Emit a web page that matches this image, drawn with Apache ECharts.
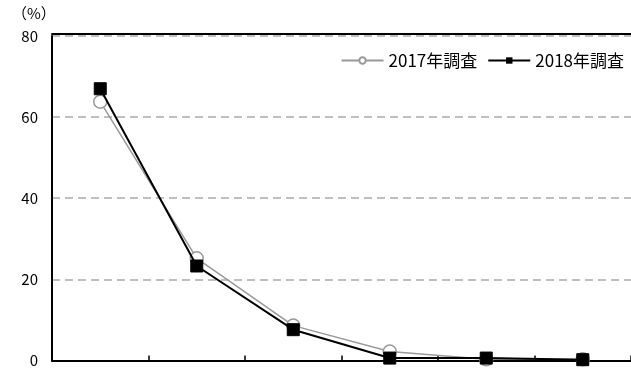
<!DOCTYPE html>
<html>
<head>
<meta charset="utf-8">
<script src="https://cdn.jsdelivr.net/npm/echarts@6/dist/echarts.min.js"></script>
<style>html,body{margin:0;padding:0;background:#fff;}#c{width:631px;height:368px;}</style>
</head>
<body>
<div id="c"></div>
<script>
const categories = ['1', '2', '3', '4', '5', '6'];
const series2017 = [63.8, 25.2, 8.6, 2.2, 0.3, 0.3];
const series2018 = [67.0, 23.3, 7.6, 0.6, 0.6, 0.2];
const yTicks = [0, 20, 40, 60, 80];
const seriesNames = ['2017年調査', '2018年調査'];

const chart = echarts.init(document.getElementById('c'));
const fontFam = '"Noto Sans CJK JP", "Liberation Sans", sans-serif';
chart.setOption({
  animation: false,
  textStyle: { fontFamily: fontFam },
  grid: { left: 52, top: 36, width: 588, bottom: 4, containLabel: false },
  legend: {
    top: 47, right: 2,
    itemWidth: 42, itemHeight: 8, itemGap: 10,
    textStyle: { fontSize: 17, color: '#000', fontFamily: fontFam },
    data: seriesNames
  },
  graphic: [{
    type: 'text', left: 12, top: 6,
    style: { text: '（%）', fill: '#000', font: '15px ' + fontFam }
  }],
  xAxis: [{
    type: 'category', data: categories, boundaryGap: true,
    axisLine: { lineStyle: { color: '#000', width: 2 } },
    axisTick: { show: true, interval: 0, inside: true, length: 5, lineStyle: { color: '#000', width: 1.5 } },
    axisLabel: { show: false, interval: 0 },
    splitLine: { show: false }
  }, {
    type: 'category', data: categories, position: 'top', offset: 2,
    axisLine: { show: true, lineStyle: { color: '#000', width: 2 } },
    axisTick: { show: false }, axisLabel: { show: false }
  }],
  yAxis: {
    type: 'value', min: 0, max: 80, interval: 20,
    axisLine: { show: true, lineStyle: { color: '#000', width: 2 } },
    axisTick: { show: false },
    axisLabel: { fontSize: 15, color: '#000', margin: 14,
      formatter: v => yTicks.includes(v) ? String(v) : '' },
    splitLine: { show: true, lineStyle: { color: '#bfbfbf', width: 2, type: [8, 5] } }
  },
  series: [{
    name: seriesNames[0], type: 'line', data: series2017, z: 2,
    symbol: 'circle', symbolSize: 13,
    lineStyle: { color: '#999', width: 1.5 },
    itemStyle: { color: '#fff', borderColor: '#999', borderWidth: 1.5 }
  }, {
    name: seriesNames[1], type: 'line', data: series2018, z: 3,
    symbol: 'rect', symbolSize: 12,
    lineStyle: { color: '#000', width: 2 },
    itemStyle: { color: '#000', borderColor: '#000' }
  }]
});
</script>
</body>
</html>
